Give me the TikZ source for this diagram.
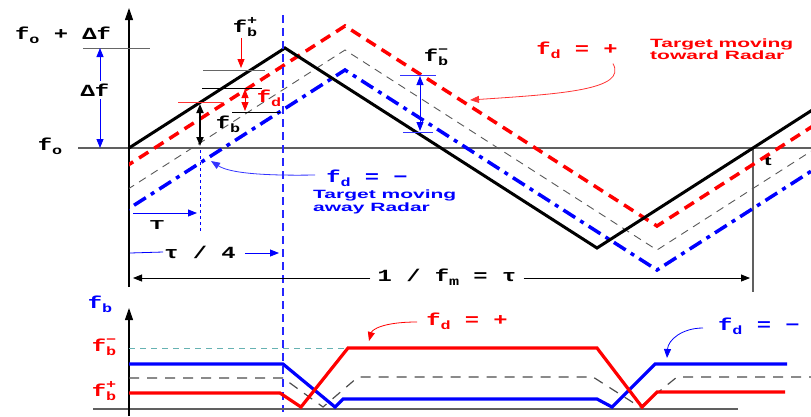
\documentclass[tikz,border=0pt]{standalone}
\usepackage{fontspec}
\newfontfamily\courfont[FakeStretch=1.4]{Liberation Mono}
\newfontfamily\arialfont[FakeStretch=1.75]{Liberation Sans}
\usetikzlibrary{arrows.meta}
\newcommand{\lsub}[1]{\raisebox{-0.45ex}{\fontsize{12}{12}\selectfont #1}}
\newcommand{\fsub}[1]{f\lsub{#1}}
\newcommand{\fbsup}[1]{f\rlap{\raisebox{0.9ex}{\fontsize{12}{12}\selectfont #1}}\lsub{b}}

\begin{document}
\begin{tikzpicture}[
    x=1pt,
    y=-1pt,
    lbl/.style={font=\courfont\bfseries\fontsize{17}{17}\selectfont, inner sep=1pt},
    note/.style={font=\arialfont\bfseries\fontsize{12}{12.5}\selectfont, align=left, inner sep=0pt},
    axis/.style={gray!75!black, line width=1.1pt},
    thin/.style={line width=0.8pt},
    tip/.style={-{Triangle[length=9pt,width=7pt]}},
    tiptip/.style={{Triangle[length=9pt,width=7pt]}-{Triangle[length=9pt,width=7pt]}},
    tx/.style={black, line width=3pt},
    rxup/.style={red, line width=3.5pt, dash pattern=on 11pt off 7pt},
    rxnil/.style={gray!70!black, line width=0.9pt, dash pattern=on 8pt off 6pt},
    rxdn/.style={blue, line width=3.5pt, dash pattern=on 14pt off 6pt on 4pt off 6pt}
  ]
    \useasboundingbox (0,0) rectangle (811,416);

    % --- Ejes superiores ---
    \draw[axis] (78,148) -- (811,148);
    \draw[axis, -{Triangle[length=12pt,width=8pt]}, black] (129,287) -- (129,8);
    \draw[thin, gray!80!black] (83,48) -- (150,48);
    \draw[axis] (753,148) -- (753,292);
    \node[lbl] (fodf) at (63,35) {\fsub{o} + Δf};
    \node[lbl] (fo) at (50,146) {\fsub{o}};
    \node[lbl, font=\arialfont\bfseries\fontsize{13}{13}\selectfont] (t) at (768,161) {t};

    % --- Rampas (transmitida y recibidas) ---
    \begin{scope}
      \clip (129,0) rectangle (811,300);
      \draw[rxnil] (33,250) -- (345,50) -- (657,250) -- (969,50);
      \draw[rxdn] (33,270) -- (345,70) -- (657,270) -- (969,70);
      \draw[rxup] (33,226) -- (345,26) -- (657,226) -- (969,26);
      \draw[tx] (129,148) -- (285,48) -- (597,248) -- (909,48);
    \end{scope}

    % --- Cotas de frecuencia ---
    \node[lbl, fill=white, inner sep=3pt] (df) at (95,90) {Δf};
    \draw[blue, thin, tip] (df.north -| 100,0) -- (100,48);
    \draw[blue, thin, tip] (df.south -| 100,0) -- (100,148);

    \draw[thin, gray!80!black] (203,70) -- (265,70);
    \draw[thin, black] (202,88) -- (262,88);
    \draw[thin, black] (232,112) -- (280,112);
    \draw[thin, red!80] (178,102) -- (222,102);
    \node[lbl] (fbp) at (245,27) {\fbsup{+}};
    \draw[red, thin, tip] (fbp.south -| 241,0) -- (241,68);
    \draw[red, thin, tiptip] (245,89) -- (245,111);
    \node[lbl, text=red] (fdtop) at (269,98) {\fsub{d}};
    \draw[black, line width=1.8pt, tiptip] (200,104) -- (200,146);
    \node[lbl] (fb) at (228,124) {\fsub{b}};

    \node[lbl] (fbm) at (436,57) {\fbsup{−}};
    \draw[blue!80, thin] (400,75) -- (436,75);
    \draw[blue!80, thin] (403,132) -- (433,132);
    \draw[blue, thin, tiptip] (420,76) -- (420,131);

    % --- Tiempos ---
    \draw[blue!85, line width=1.1pt, dash pattern=on 8pt off 5pt] (283,15) -- (283,412);
    \draw[blue, line width=1pt, dash pattern=on 3pt off 3pt] (200,150) -- (200,232);
    \node[note, text=black, font=\arialfont\bfseries\fontsize{13}{13}\selectfont] (T) at (157,225) {T};
    \draw[blue, thin, tip] (133,213) -- (197,213);
    \node[lbl] (tq) at (200,252) {τ / 4};
    \draw[blue, thin] (130,253) -- (tq.west);
    \draw[blue, thin, tip] (tq.east) ++(8,1) -- (279,253);
    \node[lbl] (tau) at (447,277) {1 / \fsub{m} = τ};
    \draw[black, thin, tip] (tau.west) ++(-6,1) -- (133,278);
    \draw[black, thin, tip] (tau.east) ++(6,1) -- (750,278);

    % --- Anotaciones ---
    \node[lbl, text=red] (fdup) at (577,50) {\fsub{d} = +};
    \node[note, text=red, anchor=west] (towards) at (650,49) {Target moving\\toward Radar};
    \coordinate (hitup) at (470,100);
    \draw[red!80, thin, tip] (fdup.south east) ++(-6,4) .. controls (628,90) and (560,94) .. (hitup);

    \node[lbl, text=blue] (fddn) at (367,178) {\fsub{d} = −};
    \node[note, text=blue, anchor=north west] (away) at (313,190) {Target moving\\away Radar};
    \coordinate (hitdn) at (211,161);
    \draw[blue!80, thin, tip] (fddn.west) ++(-10,-3) .. controls (255,176) and (228,172) .. (hitdn);

    % --- Frecuencia de batido ---
    \draw[axis] (93,409) -- (738,409);
    \draw[axis, -{Triangle[length=12pt,width=8pt]}, black] (129,416) -- (129,308);
    \node[lbl, text=blue] (fbax) at (100,304) {\fsub{b}};
    \node[lbl, text=red] (fbmlo) at (104,347) {\fbsup{−}};
    \node[lbl, text=red] (fbplo) at (104,391) {\fbsup{+}};
    \draw[teal!60, line width=1pt, dash pattern=on 6pt off 5pt] (129,348) -- (345,348);
    \draw[gray!60!black, line width=1.2pt, dash pattern=on 10pt off 8pt]
      (129,378) -- (283,378) -- (323,407) -- (358,377) -- (593,377) -- (640,407) -- (677,377) -- (811,377);
    \draw[blue, line width=3.2pt]
      (129,364) -- (283,364) -- (335,407) -- (343,399) -- (597,399) -- (612,407) -- (655,364) -- (787,364);
    \draw[red, line width=3.2pt]
      (129,393) -- (280,393) -- (301,407) -- (348,348) -- (597,348) -- (642,407) -- (657,392) -- (785,392);

    \node[lbl, text=red] (fdplo) at (467,321) {\fsub{d} = +};
    \coordinate (hitplo) at (369,341);
    \draw[red, thin, tip] (fdplo.west) ++(-8,1) .. controls (382,322) and (372,330) .. (hitplo);
    \node[lbl, text=blue, anchor=west] (fdmlo) at (717,326) {\fsub{d} = −};
    \coordinate (hitmlo) at (667,358);
    \draw[blue, thin, tip] (fdmlo.west) ++(-14,2) .. controls (682,328) and (668,340) .. (hitmlo);
  \end{tikzpicture}
\end{document}
